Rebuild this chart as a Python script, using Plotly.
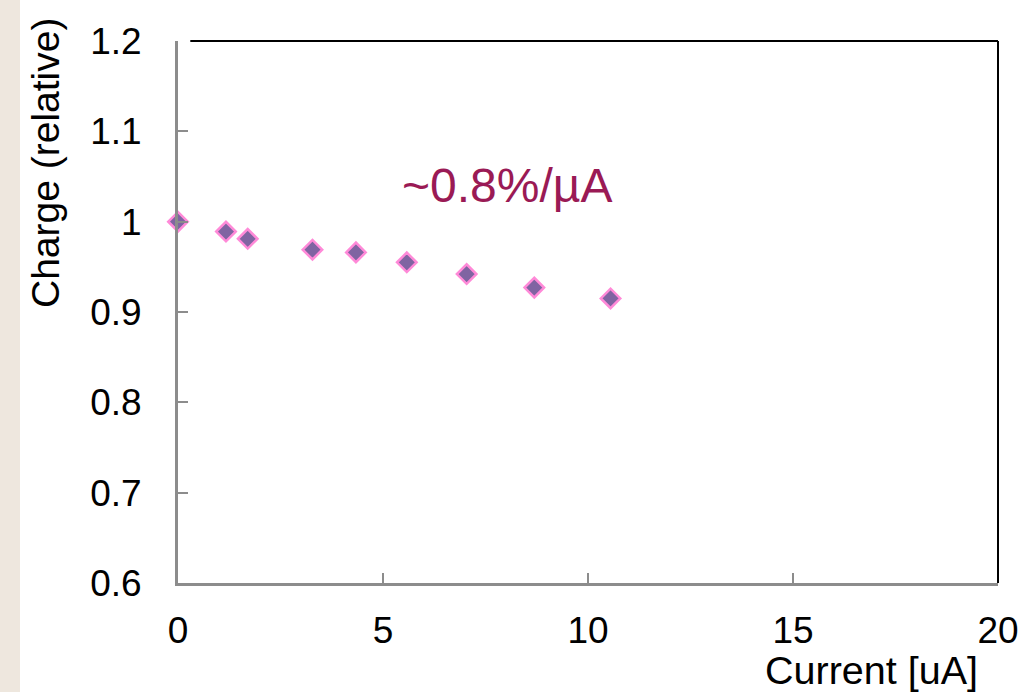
import plotly.graph_objects as go

current_ua = [0.0, 1.17, 1.70, 3.28, 4.34, 5.58, 7.04, 8.69, 10.55]
charge_rel = [1.000, 0.989, 0.981, 0.969, 0.966, 0.955, 0.942, 0.927, 0.915]
x_ticks = [0, 5, 10, 15, 20]
y_ticks = [0.6, 0.7, 0.8, 0.9, 1.0, 1.1, 1.2]
y_tick_labels = ["0.6", "0.7", "0.8", "0.9", "1", "1.1", "1.2"]

FONT = "Liberation Sans, Arial, sans-serif"

fig = go.Figure()
fig.add_trace(go.Scatter(
    x=current_ua, y=charge_rel, mode="markers",
    marker=dict(symbol="diamond", size=15, color="#8064A2",
                line=dict(color="#FF8AD8", width=2.5)),
    cliponaxis=False, showlegend=False,
))

fig.update_layout(
    width=1024, height=692,
    margin=dict(l=178, r=26, t=41, b=109, autoexpand=False),
    paper_bgcolor="white", plot_bgcolor="white",
    font=dict(family=FONT, color="black", size=37),
    xaxis=dict(range=[0, 20], tickvals=x_ticks, showgrid=False, zeroline=False,
               automargin=False,
               showline=True, linecolor="#8C8C8C", linewidth=3,
               ticks="inside", ticklen=10, tickwidth=2, tickcolor="#8C8C8C",
               tickfont=dict(size=37), ticklabelstandoff=13),
    yaxis=dict(range=[0.6, 1.2], tickvals=y_ticks, ticktext=y_tick_labels,
               showgrid=False, zeroline=False, automargin=False,
               showline=True, linecolor="#8C8C8C", linewidth=3,
               ticks="inside", ticklen=10, tickwidth=2, tickcolor="#8C8C8C",
               tickfont=dict(size=37), ticklabelstandoff=26),
    shapes=[
        dict(type="rect", xref="paper", yref="paper", x0=-178/820, x1=-158/820,
             y0=-109/542, y1=1 + 41/542, fillcolor="#EEE7DE", line=dict(width=0),
             layer="below"),
        dict(type="line", xref="paper", yref="paper", x0=0.015, x1=1, y0=1, y1=1,
             line=dict(color="black", width=2)),
        dict(type="line", xref="paper", yref="paper", x0=1, x1=1, y0=0, y1=1,
             line=dict(color="black", width=2)),
    ],
    annotations=[
        dict(text="~0.8%/µA", x=8.02, y=1.04, xref="x", yref="y", showarrow=False,
             font=dict(size=48, color="#9A1A55", family=FONT)),
        dict(text="Current [uA]", xref="paper", yref="paper",
             x=(871 - 178) / 820, y=-(670 - 583) / 542, showarrow=False,
             font=dict(size=39.5, family=FONT), xanchor="center", yanchor="middle"),
        dict(text="Charge (relative)", xref="paper", yref="paper",
             x=-(178 - 46) / 820, y=(583 - 163) / 542, showarrow=False, textangle=-90,
             font=dict(size=39, family=FONT), xanchor="center", yanchor="middle"),
    ],
)

fig.write_html("out.html", config={"displayModeBar": False},
               post_script="document.body.style.margin='0';document.body.style.overflow='hidden';")
